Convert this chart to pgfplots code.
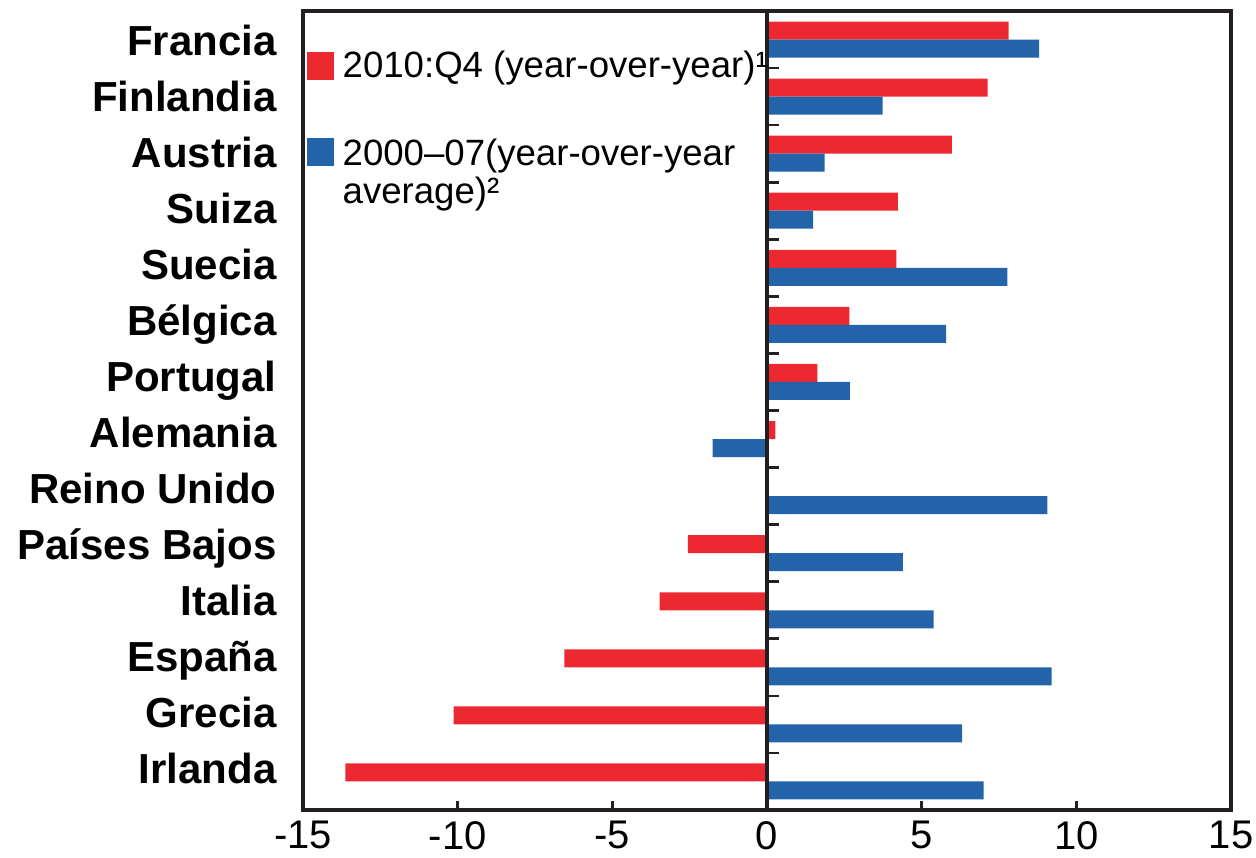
\documentclass[border=0pt]{standalone}
\usepackage{pgfplots}
\usepackage{pgfplotstable}
\pgfplotsset{compat=1.18}
\usepackage{fontspec}
\setmainfont{Liberation Sans}
\definecolor{barred}{RGB}{236,41,49}
\definecolor{barblue}{RGB}{35,99,170}
\definecolor{frame}{RGB}{35,31,32}

\pgfplotstableread{
pos    red     blue
0     -13.63   7.00
1     -10.13   6.31
2      -6.55   9.20
3      -3.47   5.39
4      -2.56   4.39
5       0.00   9.06
6       0.27  -1.76
7       1.63   2.68
8       2.66   5.79
9       4.18   7.77
10      4.23   1.49
11      5.98   1.86
12      7.13   3.74
13      7.81   8.80
}\datatable

\begin{document}
\begin{tikzpicture}
\useasboundingbox (-151.5pt,-23.5pt) rectangle (476.5pt,405pt);
\begin{axis}[
  at={(0,0)}, anchor=south west,
  scale only axis, width=464pt, height=399.5pt,
  xbar, bar width=9pt,
  xmin=-15, xmax=15, ymin=-0.5, ymax=13.5,
  xtick={-15,-10,-5,0,5,10,15},
  xticklabels={-15,-10,-5,0,5,10,15},
  xtick pos=left, tick align=inside, major tick length=4.5pt,
  ytick={-0.027,0.954,1.935,2.916,3.897,4.878,5.859,6.840,7.821,8.802,9.783,10.764,11.745,12.726},
  yticklabels={Irlanda,Grecia,España,Italia,Países Bajos,Reino Unido,Alemania,Portugal,Bélgica,Suecia,Suiza,Austria,Finlandia,Francia},
  ytick style={draw=none},
  axis line style={line width=1.6pt, color=frame},
  xtick style={line width=1.5pt, color=frame},
  xticklabel style={font=\fontsize{20}{22}\selectfont, inner sep=0pt, yshift=-5.5pt},
  yticklabel style={font=\bfseries\fontsize{21}{25}\selectfont, anchor=base east, inner sep=0pt, xshift=-13pt},
  clip=false,
]
\addplot[fill=barred, draw=none, bar shift=4.5pt] table[x=red, y=pos] {\datatable};
\addplot[fill=barblue, draw=none, bar shift=-4.5pt] table[x=blue, y=pos] {\datatable};

\draw[line width=1.75pt, color=frame] (axis cs:0,-0.5) -- (axis cs:0,13.5);
\pgfplotsinvokeforeach{0.5,1.5,2.5,3.5,4.5,5.5,6.5,7.5,8.5,9.5,10.5,11.5,12.5}{
  \draw[line width=1.3pt, color=frame] (axis cs:0,#1) -- ([xshift=6pt]axis cs:0,#1);
}

\fill[barred] (axis cs:-14.86,12.29) rectangle (axis cs:-13.99,12.78);
\node[anchor=base west, inner sep=0pt, font=\fontsize{18.3}{19}\selectfont] at (axis cs:-13.73,12.34) {2010:Q4 (year-over-year)¹};
\fill[barblue] (axis cs:-14.86,10.785) rectangle (axis cs:-13.99,11.275);
\node[anchor=base west, inner sep=0pt, font=\fontsize{18.3}{19}\selectfont] at (axis cs:-13.73,10.785) {2000–07(year-over-year};
\node[anchor=base west, inner sep=0pt, font=\fontsize{18.3}{19}\selectfont] at (axis cs:-13.73,10.12) {average)²};
\end{axis}
\end{tikzpicture}
\end{document}
